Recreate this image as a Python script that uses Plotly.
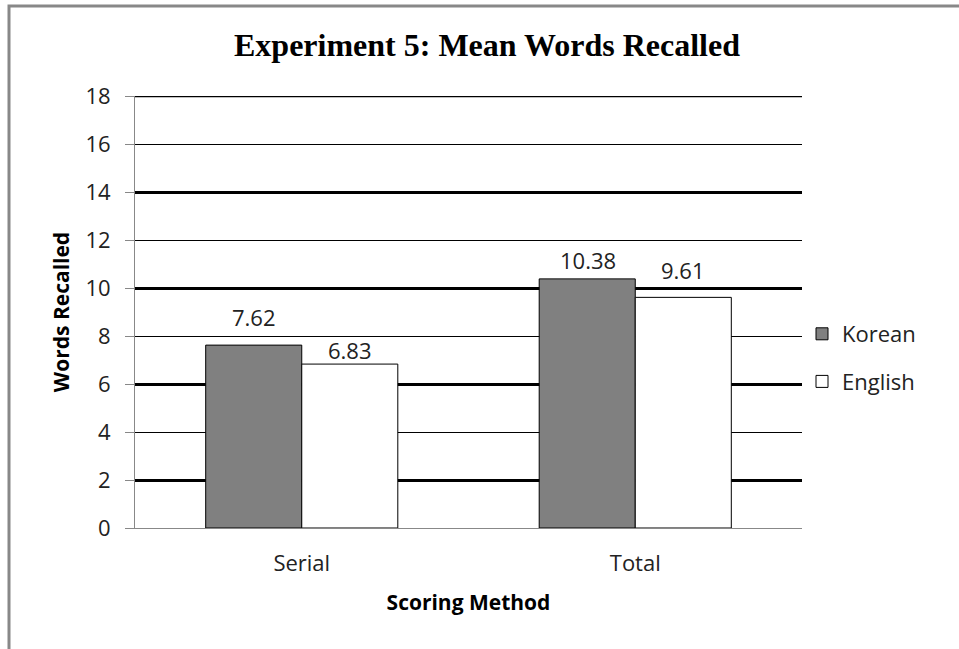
import plotly.graph_objects as go

categories = ["Serial", "Total"]
korean = [7.62, 10.38]
english = [6.83, 9.61]
series_names = ["Korean", "English"]
y_ticks = [0, 2, 4, 6, 8, 10, 12, 14, 16, 18]

W, H = 959, 649
L, R, T, B = 135, 157, 96, 121
pw, ph = W - L - R, H - T - B

FONT = "Open Sans"
YR = [0, 18]

fig = go.Figure()
fig.add_trace(go.Bar(
    x=categories, y=korean, name=series_names[0], legendgroup="k",
    marker=dict(color="#808080", line=dict(color="black", width=1)),
))
fig.add_trace(go.Bar(
    x=categories, y=english, name=series_names[1], legendgroup="e",
    marker=dict(color="white", line=dict(color="black", width=1)),
))
# overlay axis for thick gridlines
fig.add_trace(go.Scatter(x=categories, y=[None, None], yaxis="y2", showlegend=False,
                         hoverinfo="skip"))

# label placement (pixel offsets above each bar, per series / category)
label_style = [(korean, -47.5, [28, 19]), (english, 48, [14, 27])]
annotations = []
for vals, xs, yss in label_style:
    for c, v, ys in zip(categories, vals, yss):
        annotations.append(dict(x=c, y=v, xref="x", yref="y", text=f"{v:.2f}",
                                showarrow=False, xshift=xs, yshift=ys,
                                yanchor="middle",
                                font=dict(family=FONT, size=22, color="#222")))

def px_x(p):
    return (p - L) / pw

def px_y(p):
    return (H - B - p) / ph

fig.update_layout(
    width=W, height=H,
    margin=dict(l=L, r=R, t=T, b=B, autoexpand=False),
    paper_bgcolor="white", plot_bgcolor="white",
    barmode="group", bargap=0.424, bargroupgap=0,
    title=dict(text="<b>Experiment 5: Mean Words Recalled</b>",
               font=dict(family="Liberation Serif", size=32, color="black"),
               x=px_x(487), xref="paper", xanchor="center",
               y=1 - 45 / H, yanchor="middle"),
    xaxis=dict(showline=True, linecolor="#888", linewidth=1, ticks="",
               ticklabelstandoff=16,
               tickfont=dict(family=FONT, size=22, color="#222"),
               title=dict(text="<b>Scoring Method</b>", standoff=18,
                          font=dict(family=FONT, size=21, color="black")),
               showgrid=False),
    yaxis=dict(range=YR, tickvals=y_ticks, showline=True, linecolor="#888",
               linewidth=1, ticks="outside", ticklen=9, tickcolor="#888",
               ticklabelstandoff=10,
               tickfont=dict(family=FONT, size=22, color="#222"),
               showgrid=True, gridcolor="black", gridwidth=1, zeroline=False,
               title=dict(text="<b>Words Recalled</b>", standoff=10,
                          font=dict(family=FONT, size=21, color="black"))),
    yaxis2=dict(range=YR, overlaying="y", tick0=2, dtick=4, showgrid=True,
                gridcolor="black", gridwidth=2.5, showticklabels=False,
                zeroline=False, ticks="", layer="below traces"),
    legend=dict(x=1.0, xanchor="left", y=px_y(358), yanchor="middle",
                font=dict(family=FONT, size=22, color="#222"),
                traceorder="grouped", tracegroupgap=16,
                bgcolor="rgba(0,0,0,0)"),
    annotations=annotations,
    shapes=[
        dict(type="line", xref="paper", yref="y", x0=0, x1=1,
             y0=y_ticks[-1], y1=y_ticks[-1], line=dict(color="black", width=2.5),
             layer="below"),
        dict(type="rect", xref="paper", yref="paper",
             x0=px_x(9), x1=px_x(965), y0=px_y(660), y1=px_y(6),
             line=dict(color="#888", width=3), fillcolor="rgba(0,0,0,0)",
             layer="above"),
    ],
)
fig.update_yaxes(layer="below traces")

fig.write_html("out.html", config={"displayModeBar": False},
               post_script="document.body.style.margin='0';document.body.style.overflow='hidden';")
